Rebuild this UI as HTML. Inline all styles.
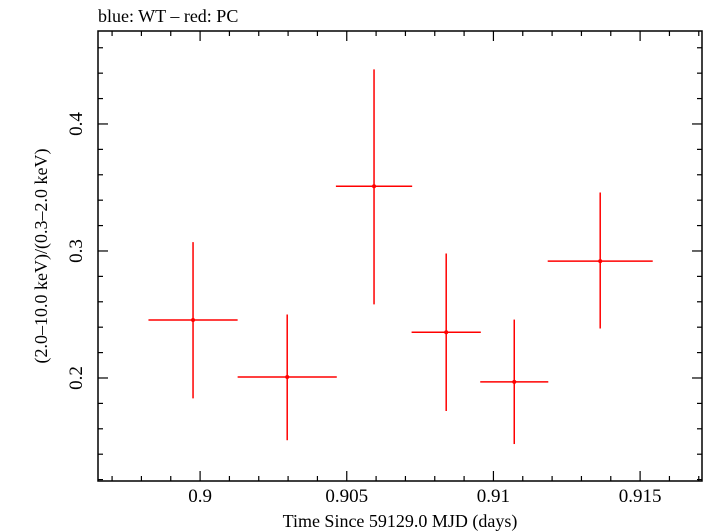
<!DOCTYPE html>
<html><head><meta charset="utf-8"><style>
html,body{margin:0;padding:0;background:#fff;width:705px;height:532px;overflow:hidden}
text{font-family:"Liberation Serif",serif;fill:#000}
</style></head><body>
<svg id="chart" width="705" height="532" xmlns="http://www.w3.org/2000/svg">
<text x="98" y="22" font-size="18">blue: WT – red: PC</text>
<rect x="98" y="31" width="604" height="450" fill="none" stroke="#000" stroke-width="1.5"/>
<g id="ticks"></g>
<g id="marks"></g>
<text x="400" y="527" font-size="18" text-anchor="middle">Time Since 59129.0 MJD (days)</text>
<text transform="translate(47,256) rotate(-90)" font-size="18" text-anchor="middle">(2.0–10.0 keV)/(0.3–2.0 keV)</text>
</svg>
<script>
const times=[0.89976,0.90297,0.90593,0.90839,0.91071,0.91364];
const timeHalfWidths=[0.00152,0.00169,0.0013,0.00118,0.00116,0.00179];
const ratios=[0.2457,0.2008,0.351,0.236,0.1969,0.292];
const ratioUpper=[0.307,0.250,0.443,0.298,0.246,0.346];
const ratioLower=[0.184,0.151,0.258,0.174,0.148,0.239];
const xTickLabels=["0.9","0.905","0.91","0.915"];
const yTickLabels=["0.2","0.3","0.4"];
const L=98,R=702,T=31,B=481;
const xMin=0.89652,xMax=0.91711,yMin=0.1189,yMax=0.4732;
const X=v=>L+(v-xMin)/(xMax-xMin)*(R-L);
const Y=v=>B-(v-yMin)/(yMax-yMin)*(B-T);
const NS="http://www.w3.org/2000/svg";
function mk(tag,attrs,parent){const e=document.createElementNS(NS,tag);for(const k in attrs)e.setAttribute(k,attrs[k]);parent.appendChild(e);return e;}
const tg=document.getElementById('ticks');
for(let i=0;i<=25;i++){const v=0.896+i*0.001;if(v<xMin||v>xMax)continue;const x=X(v);const major=Math.abs(Math.round(v*200)-v*200)<1e-6;const len=major?10:5;
 const t1=mk('line',{x1:x,x2:x,y1:B,y2:B-len,stroke:'#000','stroke-width':1.2},tg);
 
 
 const t2=mk('line',{x1:x,x2:x,y1:T,y2:T+len,stroke:'#000','stroke-width':1.2},tg);
 
 }
xTickLabels.forEach(s=>{const t=mk('text',{x:X(parseFloat(s)),y:502,'font-size':19,'text-anchor':'middle'},tg);t.textContent=s;
 
 });
for(let i=0;i<=30;i++){const v=0.12+i*0.02;if(v<yMin||v>yMax)continue;const y=Y(v);const major=Math.abs(Math.round(v*10)-v*10)<1e-6;const len=major?10:5;
 const t1=mk('line',{x1:L,x2:L+len,y1:y,y2:y,stroke:'#000','stroke-width':1.2},tg);
 
 
 const t2=mk('line',{x1:R,x2:R-len,y1:y,y2:y,stroke:'#000','stroke-width':1.2},tg);
 
 }
yTickLabels.forEach(s=>{const y=Y(parseFloat(s));const t=mk('text',{transform:`translate(82,${y}) rotate(-90)`,'font-size':19,'text-anchor':'middle'},tg);t.textContent=s;
 
 });
const mg=document.getElementById('marks');
times.forEach((t,i)=>{
 const g=mk('g',{},mg);
 
 
 mk('line',{x1:X(t-timeHalfWidths[i]),x2:X(t+timeHalfWidths[i]),y1:Y(ratios[i]),y2:Y(ratios[i]),stroke:'#f00','stroke-width':1.5},g);
 mk('line',{x1:X(t),x2:X(t),y1:Y(ratioUpper[i]),y2:Y(ratioLower[i]),stroke:'#f00','stroke-width':1.5},g);
 mk('circle',{cx:X(t),cy:Y(ratios[i]),r:2,fill:'#f00'},g);
});
</script>
</body></html>
